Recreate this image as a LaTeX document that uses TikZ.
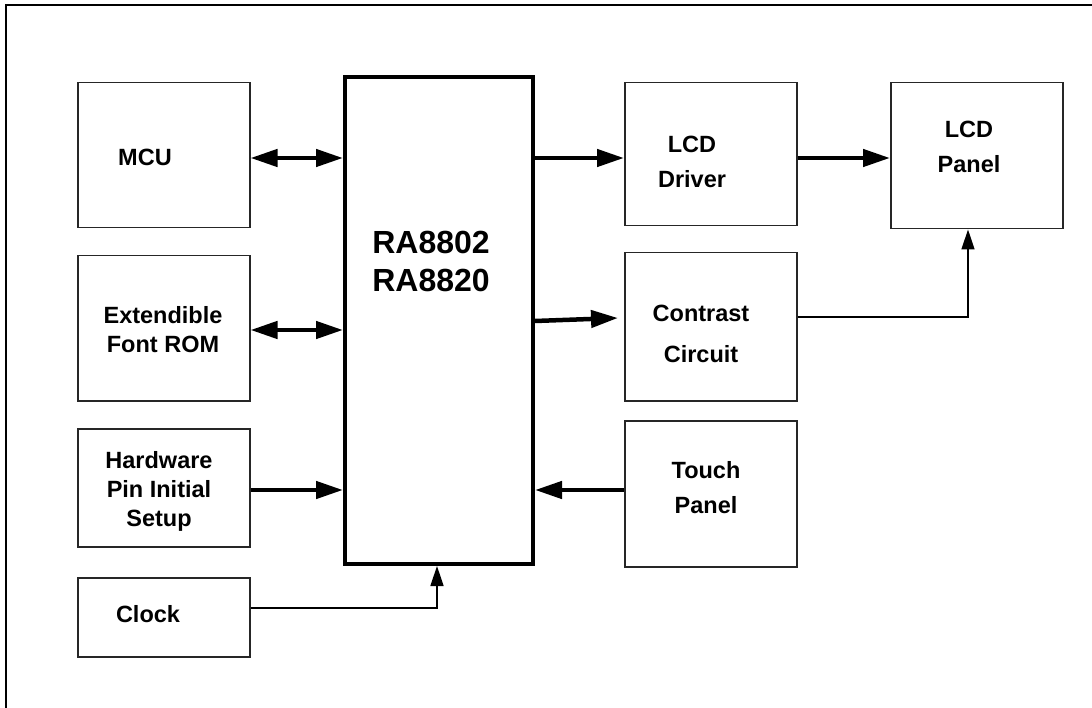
\documentclass[tikz,border=0pt]{standalone}
\usepackage{fontspec}
\setmainfont{Liberation Sans}
\usetikzlibrary{arrows.meta,calc}
\begin{document}
\begin{tikzpicture}[x=1pt,y=-1pt,
  blk/.style={draw=black!85,line width=1.5pt,inner sep=0pt,anchor=north west},
  lbl/.style={font=\fontsize{23.5}{29}\selectfont\bfseries,align=center,inner sep=0pt},
  rlbl/.style={font=\fontsize{23.5}{35}\selectfont\bfseries,align=center,inner sep=0pt},
  bigarrow/.style={line width=4.5pt,-{Triangle[length=27pt,width=17pt]}},
  dblarrow/.style={line width=4.5pt,{Triangle[length=27pt,width=17pt]}-{Triangle[length=27pt,width=17pt]}},
  thinarrow/.style={line width=1.6pt,-{Triangle[length=20pt,width=13pt]}}]
\useasboundingbox (0,0) rectangle (1092,708);
% frame (top and left only visible)
\draw[line width=2pt] (6,708) -- (6,5) -- (1092,5);
% boxes
\node[blk,minimum width=172pt,minimum height=145pt] (mcu) at (77,82) {};
\node[blk,minimum width=172pt,minimum height=145pt] (rom) at (77,255) {};
\node[blk,minimum width=172pt,minimum height=118pt] (hw) at (77,428) {};
\node[blk,minimum width=172pt,minimum height=79pt] (clk) at (77,577) {};
\node[draw,line width=4pt,inner sep=0pt,anchor=north west,minimum width=188pt,minimum height=487pt] (ra) at (343,75) {};
\node[blk,minimum width=172pt,minimum height=143pt] (drv) at (624,82) {};
\node[blk,minimum width=172pt,minimum height=148pt] (con) at (624,252) {};
\node[blk,minimum width=172pt,minimum height=146pt] (tp) at (624,420) {};
\node[blk,minimum width=172pt,minimum height=146pt] (pnl) at (890,82) {};
% labels
\node[lbl] (tmcu) at (145,157) {MCU};
\node[lbl] (trom) at (163,330) {Extendible\\Font ROM};
\node[lbl] (thw) at (159,491) {Hardware\\Pin Initial\\Setup};
\node[lbl] (tclk) at (148,614) {Clock};
\node[lbl,font=\fontsize{32}{38}\selectfont\bfseries] (tra) at (431,261) {RA8802\\RA8820};
\node[rlbl] (tdrv) at (692,162) {LCD\\Driver};
\node[rlbl,font=\fontsize{23.5}{41}\selectfont\bfseries] (tcon) at (701,334) {Contrast\\Circuit};
\node[rlbl] (ttp) at (706,488) {Touch\\Panel};
\node[rlbl] (tpnl) at (969,147) {LCD\\Panel};
% connectors
\draw[dblarrow] (mcu.east |- 0,158) -- (ra.west |- 0,158);
\draw[dblarrow] (rom.east |- 0,330) -- (ra.west |- 0,330);
\draw[bigarrow] (hw.east |- 0,490) -- (ra.west |- 0,490);
\draw[bigarrow] (ra.east |- 0,158) -- (drv.west |- 0,158);
\draw[bigarrow] (ra.east |- 0,321) -- ([xshift=-6pt]con.west |- 0,318);
\draw[bigarrow] (drv.east |- 0,158) -- (pnl.west |- 0,158);
\draw[bigarrow] (tp.west |- 0,490) -- (ra.east |- 0,490);
\draw[thinarrow] (con.east |- 0,317) -| (pnl.south -| 968,0);
\draw[thinarrow] (clk.east |- 0,608) -| (ra.south -| 437,0);
\end{tikzpicture}
\end{document}
